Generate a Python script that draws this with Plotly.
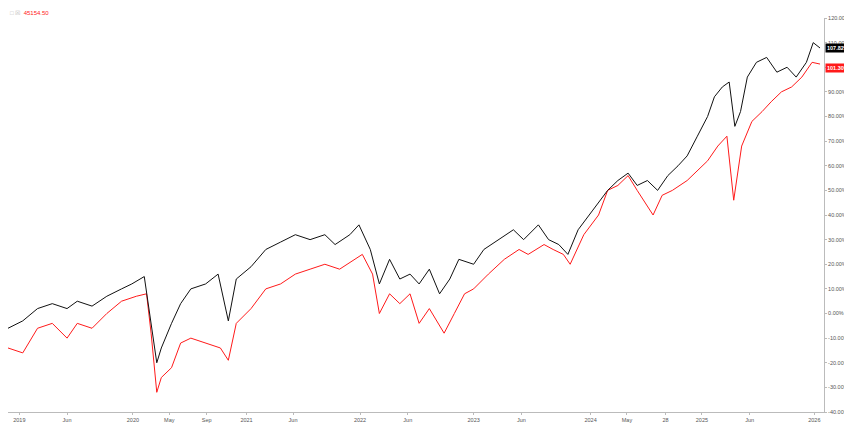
import plotly.graph_objects as go

black_t = [2018.90,2019.03,2019.16,2019.29,2019.42,2019.51,2019.64,2019.77,2019.90,2019.99,2020.10,2020.16,2020.21,2020.25,2020.34,2020.42,2020.51,2020.64,2020.75,2020.84,2020.91,2021.04,2021.17,2021.30,2021.43,2021.56,2021.69,2021.78,2021.91,2021.99,2022.09,2022.17,2022.26,2022.35,2022.44,2022.52,2022.61,2022.70,2022.79,2022.87,2023.00,2023.09,2023.22,2023.35,2023.44,2023.57,2023.66,2023.75,2023.83,2023.92,2024.05,2024.18,2024.27,2024.36,2024.44,2024.53,2024.62,2024.71,2024.80,2024.88,2024.97,2025.06,2025.12,2025.19,2025.25,2025.30,2025.35,2025.41,2025.49,2025.58,2025.67,2025.76,2025.84,2025.93,2025.99,2026.05]
black_v = [-6,-3,2,4,2,5,3,7,10,12,15,-4,-20,-14,-4,4,10,12,16,-3,14,19,26,29,32,30,32,28,32,36,26,12,22,14,16,12,18,8,14,22,20,26,30,34,30,36,30,28,24,34,42,50,54,57,52,54,50,56,60,64,72,80,88,92,94,76,82,96,102,104,98,100,96,102,110,107.82]

red_t = [2018.90,2019.03,2019.16,2019.29,2019.42,2019.51,2019.64,2019.77,2019.90,2020.03,2020.12,2020.16,2020.21,2020.25,2020.34,2020.42,2020.51,2020.64,2020.77,2020.84,2020.91,2021.04,2021.17,2021.30,2021.43,2021.56,2021.69,2021.82,2021.95,2022.02,2022.11,2022.17,2022.26,2022.35,2022.44,2022.52,2022.61,2022.74,2022.83,2022.92,2023.00,2023.13,2023.27,2023.40,2023.48,2023.62,2023.70,2023.79,2023.85,2023.97,2024.10,2024.18,2024.27,2024.36,2024.44,2024.58,2024.66,2024.75,2024.88,2024.97,2025.06,2025.15,2025.23,2025.29,2025.36,2025.45,2025.54,2025.62,2025.71,2025.80,2025.89,2025.98,2026.05]
red_v = [-14,-16,-6,-4,-10,-4,-6,0,5,7,8,-8,-32,-26,-22,-12,-10,-12,-14,-19,-4,2,10,12,16,18,20,18,22,24,16,0,8,4,8,-4,2,-8,0,8,10,16,22,26,24,28,26,24,20,32,40,50,52,56,50,40,48,50,54,58,62,68,72,46,68,78,82,86,90,92,96,102,101.30]

tick_vals = [2019.0,2019.42,2020.0,2020.32,2020.65,2021.0,2021.41,2022.0,2022.42,2023.0,2023.42,2024.03,2024.35,2024.69,2025.01,2025.43,2026.0]
tick_text = ["2019","Jun","2020","May","Sep","2021","Jun","2022","Jun","2023","Jun","2024","May","28","2025","Jun","2026"]
y_ticks = list(range(-40, 121, 10))

fig = go.Figure()
fig.add_trace(go.Scatter(x=red_t, y=red_v, mode="lines", line=dict(color="#ff1a1a", width=1), showlegend=False))
fig.add_trace(go.Scatter(x=black_t, y=black_v, mode="lines", line=dict(color="#111111", width=1), showlegend=False))

fig.update_layout(
    width=852, height=426, margin=dict(l=0, r=36, t=10, b=22),
    paper_bgcolor="white", plot_bgcolor="white",
    font=dict(family="Liberation Sans", size=5.5, color="#555"),
    xaxis=dict(range=[2018.90, 2026.085], tickvals=tick_vals, ticktext=tick_text,
               showgrid=False, zeroline=False, showline=True, linecolor="#bbb",
               ticks="outside", ticklen=2, tickcolor="#bbb", automargin=False),
    yaxis=dict(side="right", range=[-40, 120], tickvals=y_ticks,
               ticktext=[f"{v:.2f}%" for v in y_ticks], showgrid=False, zeroline=False,
               showline=True, linecolor="#bbb", ticks="outside", ticklen=2, tickcolor="#bbb",
               automargin=False),
)
fig.add_annotation(x=1, xref="paper", xanchor="left", xshift=1, y=black_v[-1], yref="y", text="<b>107.82%</b>",
                   showarrow=False, bgcolor="black", font=dict(color="white", size=5.5), borderpad=1)
fig.add_annotation(x=1, xref="paper", xanchor="left", xshift=1, y=red_v[-1] - 1.5, yref="y", text="<b>101.30%</b>",
                   showarrow=False, bgcolor="#ff1a1a", font=dict(color="white", size=5.5), borderpad=1)
fig.add_annotation(x=0, xref="paper", y=1, yref="paper", yanchor="bottom", xanchor="left",
                   text="<span style='color:#bbb'>□ ☒</span>  45154.50", showarrow=False,
                   font=dict(color="#ff1a1a", size=6))
fig.write_html("out.html")
